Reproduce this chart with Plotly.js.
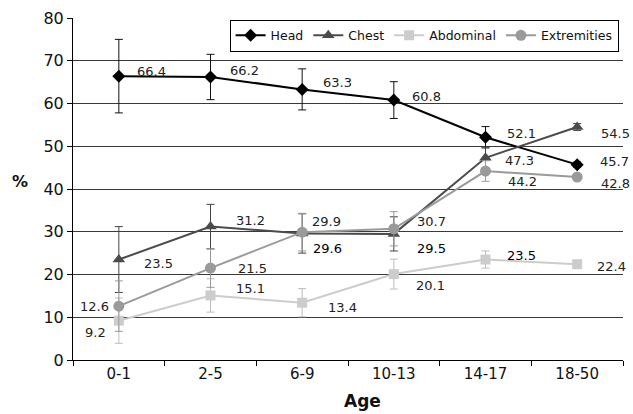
<!DOCTYPE html>
<html>
<head>
<meta charset="utf-8">
<script src="https://cdn.plot.ly/plotly-3.0.1.min.js"></script>
<style>
  html, body { margin: 0; padding: 0; background: #fff; }
  #chart { width: 633px; height: 414px; }
</style>
</head>
<body>
<div id="chart"></div>
<script>
// ---- data ----
const ageGroups = ["0-1", "2-5", "6-9", "10-13", "14-17", "18-50"];
const headValues = [66.4, 66.2, 63.3, 60.8, 52.1, 45.7];
const chestValues = [23.5, 31.2, 29.6, 29.5, 47.3, 54.5];
const abdominalValues = [9.2, 15.1, 13.4, 20.1, 23.5, 22.4];
const extremitiesValues = [12.6, 21.5, 29.9, 30.7, 44.2, 42.8];
const headErrors = [8.6, 5.3, 4.8, 4.3, 2.5, 0.6];
const chestErrors = [7.7, 5.2, 4.6, 4.0, 2.5, 0.8];
const abdominalErrors = [5.3, 3.9, 3.3, 3.5, 2.0, 0.5];
const extremitiesErrors = [5.9, 4.5, 4.4, 4.0, 2.4, 0.5];
const seriesNames = ["Head", "Chest", "Abdominal", "Extremities"];

// ---- styling / label placement (pixels) ----
const styles = {
  Head:        { color: "#000000", err: "#111111", symbol: "diamond",      size: 10, width: 2 },
  Chest:       { color: "#4b4b4b", err: "#444444", symbol: "triangle-up",  size: 11, width: 2 },
  Abdominal:   { color: "#cccccc", err: "#bdbdbd", symbol: "square",       size: 10, width: 2 },
  Extremities: { color: "#9a9a9a", err: "#999999", symbol: "circle",       size: 11, width: 2 }
};
const labelShift = {
  Head:        [[33, 5], [34, 6], [35, 7], [33, 4], [36, 4], [37, 3]],
  Chest:       [[40, -4], [40, 6], [25, -15], [38, -15], [34, -3], [38, -6]],
  Abdominal:   [[-23, -12], [40, 7], [40, -5], [37, -11], [36, 4], [34, -2]],
  Extremities: [[-24, 0], [42, 0], [24, 11], [38, 7], [37, -10], [38, -6]]
};
const darkLabels = { Chest: [2, 3], Abdominal: [4] };

const valuesBySeries = {
  Head: headValues, Chest: chestValues, Abdominal: abdominalValues, Extremities: extremitiesValues
};
const errorsBySeries = {
  Head: headErrors, Chest: chestErrors, Abdominal: abdominalErrors, Extremities: extremitiesErrors
};

const FONT = "DejaVu Sans, Verdana, sans-serif";

const traces = seriesNames.map(name => {
  const s = styles[name];
  return {
    type: "scatter",
    mode: "lines+markers",
    name: name,
    x: ageGroups,
    y: valuesBySeries[name],
    line: { color: s.color, width: s.width },
    marker: { color: s.color, symbol: s.symbol, size: s.size },
    error_y: { type: "data", array: errorsBySeries[name], visible: true,
               color: s.err, thickness: 1, width: 4 },
    hoverinfo: "x+y+name"
  };
});

const annotations = [];
seriesNames.forEach(name => {
  const vals = valuesBySeries[name];
  vals.forEach((v, i) => {
    const dark = (darkLabels[name] || []).includes(i);
    annotations.push({
      x: ageGroups[i], y: v, xref: "x", yref: "y",
      text: v.toFixed(1),
      showarrow: false,
      xanchor: "center", yanchor: "middle",
      xshift: labelShift[name][i][0],
      yshift: labelShift[name][i][1],
      font: { family: FONT, size: 13, color: dark ? "#000" : "#222" }
    });
  });
});
annotations.push({
  text: "<b>%</b>", xref: "paper", yref: "paper", x: -0.096, y: 0.522,
  xanchor: "center", yanchor: "middle",
  showarrow: false, font: { family: FONT, size: 16, color: "#111" }
});
annotations.push({
  text: "<b>Age</b>", xref: "paper", yref: "paper", x: 0.526, y: -0.120,
  xanchor: "center", yanchor: "middle",
  showarrow: false, font: { family: FONT, size: 17, color: "#111" }
});

const layout = {
  width: 633, height: 414,
  margin: { l: 73, r: 10, t: 18, b: 54 },
  paper_bgcolor: "#ffffff", plot_bgcolor: "#ffffff",
  font: { family: FONT, size: 15, color: "#111" },
  showlegend: true,
  legend: {
    orientation: "h", x: 0.992, xanchor: "right", y: 0.995, yanchor: "top",
    bordercolor: "#000", borderwidth: 1, bgcolor: "#fff",
    font: { family: FONT, size: 12.5, color: "#111" },
    itemwidth: 30, tracegroupgap: 0
  },
  xaxis: {
    type: "category", range: [-0.5, 5.5], tickson: "boundaries",
    ticks: "outside", ticklen: 5, tickcolor: "#000",
    showline: true, linecolor: "#000", linewidth: 1,
    showgrid: false, zeroline: false,
    tickfont: { family: FONT, size: 15, color: "#111" },
    fixedrange: true
  },
  yaxis: {
    range: [0, 80], dtick: 10, tick0: 0,
    ticks: "outside", ticklen: 5, tickcolor: "#000",
    showline: true, linecolor: "#000", linewidth: 1,
    showgrid: true, gridcolor: "#3a3a3a", gridwidth: 1,
    zeroline: false,
    tickfont: { family: FONT, size: 16, color: "#111" },
    fixedrange: true
  },
  annotations: annotations
};

Plotly.newPlot("chart", traces, layout, { displayModeBar: false, staticPlot: true });
</script>
</body>
</html>
